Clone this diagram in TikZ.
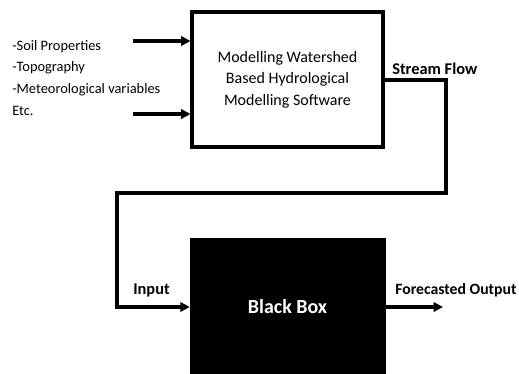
\documentclass[tikz,border=0pt]{standalone}
\usepackage{fontspec}
\setmainfont{Carlito}
\usetikzlibrary{arrows.meta,positioning}

\tikzset{
  flowline/.style={line width=2.3pt},
  flowarrow/.style={flowline,-{Triangle[length=7pt,width=7pt]}},
  whitebox/.style={draw,line width=2.3pt,inner sep=0pt,minimum width=143.25pt,
    minimum height=101.25pt,align=center,font=\fontsize{12}{16.2}\selectfont},
  blackbox/.style={fill=black,draw=black,inner sep=0pt,minimum width=146.25pt,
    minimum height=102pt,text=white,font=\fontsize{15}{18}\selectfont\bfseries},
  lbl/.style={inner sep=0pt,font=\fontsize{12.3}{14}\selectfont\bfseries}
}

\begin{document}
\begin{tikzpicture}[x=0.75pt,y=-0.75pt]
  \useasboundingbox (0,0) rectangle (519,374);

  % boxes
  \node[whitebox] (mws) at (287.5,79.5) {Modelling Watershed\\Based Hydrological\\Modelling Software};
  \node[blackbox] (bb) at (287.5,306.5) {Black Box};

  % inputs of the model
  \node[anchor=north west,inner sep=0pt,align=left,font=\fontsize{10.8}{16.3}\selectfont]
    (vars) at (12,40) {-Soil Properties\\-Topography\\-Meteorological variables\\Etc.};
  \coordinate (in1) at (133,41);
  \coordinate (in2) at (133,114);
  \draw[flowarrow] (in1) -- (in1 -| mws.west);
  \draw[flowarrow] (in2) -- (in2 -| mws.west);

  % stream flow into the black box
  \coordinate (sf) at (383,80);
  \coordinate (c1) at (446,80);
  \coordinate (c2) at (446,193);
  \coordinate (c3) at (117,193);
  \coordinate (c4) at (117,307);
  \draw[flowarrow] (sf) -- (c1) -- (c2) -- (c3) -- (c4) -- (c4 -| bb.west);
  \node[lbl,anchor=base west] (sflbl) at (392,75) {Stream Flow};
  \node[lbl,anchor=base west] (inlbl) at (133,295) {Input};

  % output
  \coordinate (out) at (443,307);
  \draw[flowarrow] (out -| bb.east) -- (out);
  \node[lbl,anchor=base west,font=\fontsize{11.8}{14}\selectfont\bfseries] (outlbl) at (395,295) {Forecasted Output};
\end{tikzpicture}
\end{document}
